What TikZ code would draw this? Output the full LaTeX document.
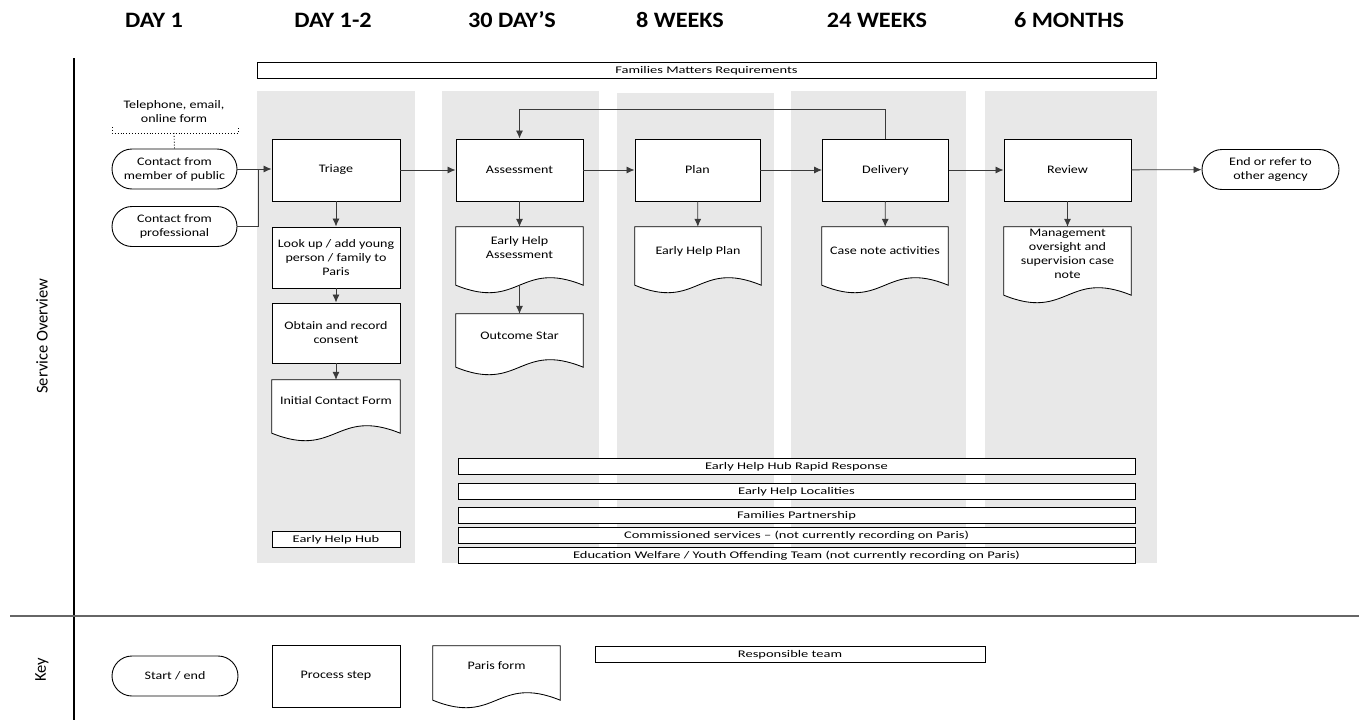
\documentclass[tikz,border=0pt]{standalone}
\usepackage{fontspec}
\setmainfont{Carlito}
\newfontfamily\mainf[FakeStretch=1.22]{Carlito}
\newfontfamily\barf[FakeStretch=1.42]{Carlito}
\newfontfamily\headf[FakeStretch=1.1]{Carlito}
\usetikzlibrary{arrows.meta,shapes.misc,calc}
\pgfdeclarelayer{bg}
\pgfdeclarelayer{mid}
\pgfsetlayers{bg,mid,main}
\definecolor{lanegray}{HTML}{E8E8E8}
\definecolor{linegray}{HTML}{3A3A3A}
\tikzset{
  x=1pt, y=-1pt,
  txt/.style={font=\mainf\fontsize{11.5}{14}\selectfont, align=center},
  proc/.style={txt, draw=black, line width=0.95pt, fill=white, inner sep=0pt, minimum width=128pt, minimum height=62pt},
  term/.style={txt, draw=black, line width=0.9pt, fill=white, rounded rectangle, inner sep=0pt, minimum width=125pt, minimum height=40pt},
  docbox/.style={txt, inner sep=0pt, minimum width=127pt},
  docline/.style={draw=black, line width=0.85pt, fill=white},
  bar/.style={draw=black, line width=0.9pt, fill=white, inner sep=0pt, text height=8pt, text depth=1.5pt, font=\barf\fontsize{10.2}{12}\selectfont},
  head/.style={font=\headf\bfseries\fontsize{22}{24}\selectfont},
  lane/.style={fill=lanegray, draw=none},
  conn/.style={draw=linegray, line width=0.85pt, -{Latex[length=8pt,width=7pt]}},
  plain/.style={draw=linegray, line width=0.85pt},
}
\newcommand\docshape[1]{%
  \begin{pgfonlayer}{mid}
  \draw[docline] (#1.north west) -- (#1.north east) -- (#1.south east)
     .. controls ($(#1.south)+(0,-26)$) and ($(#1.south)+(0,26)$) .. (#1.south west) -- cycle;
  \end{pgfonlayer}}
\begin{document}
\begin{tikzpicture}
\useasboundingbox (0,0) rectangle (1359,720);
% lanes
\begin{pgfonlayer}{bg}
\fill[white] (0,0) rectangle (1359,720);
\path[lane] (257,91) rectangle (415,563);
\path[lane] (442,91) rectangle (599,563);
\path[lane] (617,93) rectangle (774,563);
\path[lane] (791,91) rectangle (966,563);
\path[lane] (985,91) rectangle (1157,563);
\end{pgfonlayer}
% frame lines
\draw[black, line width=1.2pt] (74,58) -- (74,720);
\draw[gray!80!black, line width=1.3pt] (10,616) -- (1359,616);
\node[rotate=90, font=\fontsize{16.5}{18}\selectfont] (svc) at (42,336) {Service Overview};
\node[rotate=90, font=\fontsize{16.5}{18}\selectfont] (key) at (42,670) {Key};
% headers
\node[head] (h1) at (154,20) {DAY 1};
\node[head] (h2) at (333,20) {DAY 1-2};
\node[head] (h3) at (512,20) {30 DAY’S};
\node[head] (h4) at (680,20) {8 WEEKS};
\node[head] (h5) at (877,20) {24 WEEKS};
\node[head] (h6) at (1069,20) {6 MONTHS};
% families matters
\node[bar, minimum width=899pt, minimum height=16pt] (fmr) at (706.5,70) {Families Matters Requirements};
% telephone annotation
\node[txt] (tel) at (174,112) {Telephone, email,\\online form};
\coordinate (telL) at (112,127);
\coordinate (telR) at (238,127);
\coordinate (telM) at (174,133);
\draw[black, line width=0.9pt, dotted] (telL) |- (telR |- telM) -- (telR);
% terminals
\node[term] (pub) at (174.5,169) {Contact from\\member of public};
\node[term] (pro) at (174.5,226.5) {Contact from\\professional};
\node[term, minimum width=137pt] (endn) at (1270.5,169.5) {End or refer to\\other agency};
\draw[black, line width=0.9pt, dotted] (telM) -- (pub.north);
% process boxes
\node[proc] (tri) at (336,170) {Triage};
\node[proc, minimum width=127pt] (ass) at (519.5,170) {Assessment};
\node[proc, minimum width=125pt] (plan) at (697.5,170) {Plan};
\node[proc, minimum width=126pt] (del) at (885.5,170) {Delivery};
\node[proc, minimum width=127pt] (rev) at (1067.5,170) {Review};
\node[proc, minimum height=61pt] (look) at (336,257.5) {Look up / add young\\person / family to\\Paris};
\node[proc, minimum height=60pt] (obt) at (336,333) {Obtain and record\\consent};
% documents
\node[docbox, minimum width=128pt, minimum height=53pt, text depth=12pt] (icf) at (336,406.5) {Initial Contact Form};
\docshape{icf}
\node[docbox, minimum height=58pt, text depth=16pt] (eha) at (519.5,256) {Early Help\\Assessment};
\docshape{eha}
\node[docbox, minimum height=53pt, text depth=10pt] (os) at (519.5,340.5) {Outcome Star};
\docshape{os}
\node[docbox, minimum width=126pt, minimum height=58pt, text depth=10pt] (ehp) at (698,256) {Early Help Plan};
\docshape{ehp}
\node[docbox, minimum width=126pt, minimum height=58pt, text depth=10pt] (cna) at (885,256) {Case note activities};
\docshape{cna}
\node[docbox, minimum height=68pt, text depth=14pt] (mgt) at (1067.5,261) {Management\\oversight and\\supervision case\\note};
\docshape{mgt}
% connectors
\coordinate (join) at (258,169);
\draw[conn] (pub.east) -- (tri.west |- pub.east);
\draw[plain] (pro.east) -| (join);
\draw[conn] (tri) -- (ass);
\draw[conn] (ass) -- (plan);
\draw[conn] (plan) -- (del);
\draw[conn] (del) -- (rev);
\draw[conn] (rev) -- (endn);
\draw[conn] (tri) -- (look);
\draw[conn] (look) -- (obt);
\draw[conn] (obt) -- (icf);
\draw[conn] (ass) -- (eha);
\draw[conn] (eha.south) -- (os.north);
\draw[conn] (plan) -- (ehp);
\draw[conn] (del) -- (cna);
\draw[conn] (rev) -- (mgt);
\coordinate (loop) at (0,109);
\draw[conn] (del.north) -- (del.north |- loop) -| (ass.north);
% team bars
\node[bar, minimum width=677pt, minimum height=16pt] (b1) at (796.5,466) {Early Help Hub Rapid Response};
\node[bar, minimum width=677pt, minimum height=16pt] (b2) at (796.5,491) {Early Help Localities};
\node[bar, minimum width=677pt, minimum height=16pt] (b3) at (796.5,515) {Families Partnership};
\node[bar, minimum width=677pt, minimum height=16pt] (b4) at (796.5,535) {Commissioned services – (not currently recording on Paris)};
\node[bar, minimum width=677pt, minimum height=16pt] (b5) at (796.5,555) {Education Welfare / Youth Offending Team (not currently recording on Paris)};
\node[bar, minimum width=128pt, minimum height=16pt] (ehh) at (336,539) {Early Help Hub};
% key
\node[term, minimum width=126pt] (kstart) at (175,676) {Start / end};
\node[proc, minimum height=62pt] (kproc) at (336,676) {Process step};
\node[docbox, minimum height=54pt, text depth=14pt] (kdoc) at (496.5,673) {Paris form};
\docshape{kdoc}
\node[bar, minimum width=390pt, minimum height=16pt] (kbar) at (790,654) {Responsible team};
\end{tikzpicture}
\end{document}
